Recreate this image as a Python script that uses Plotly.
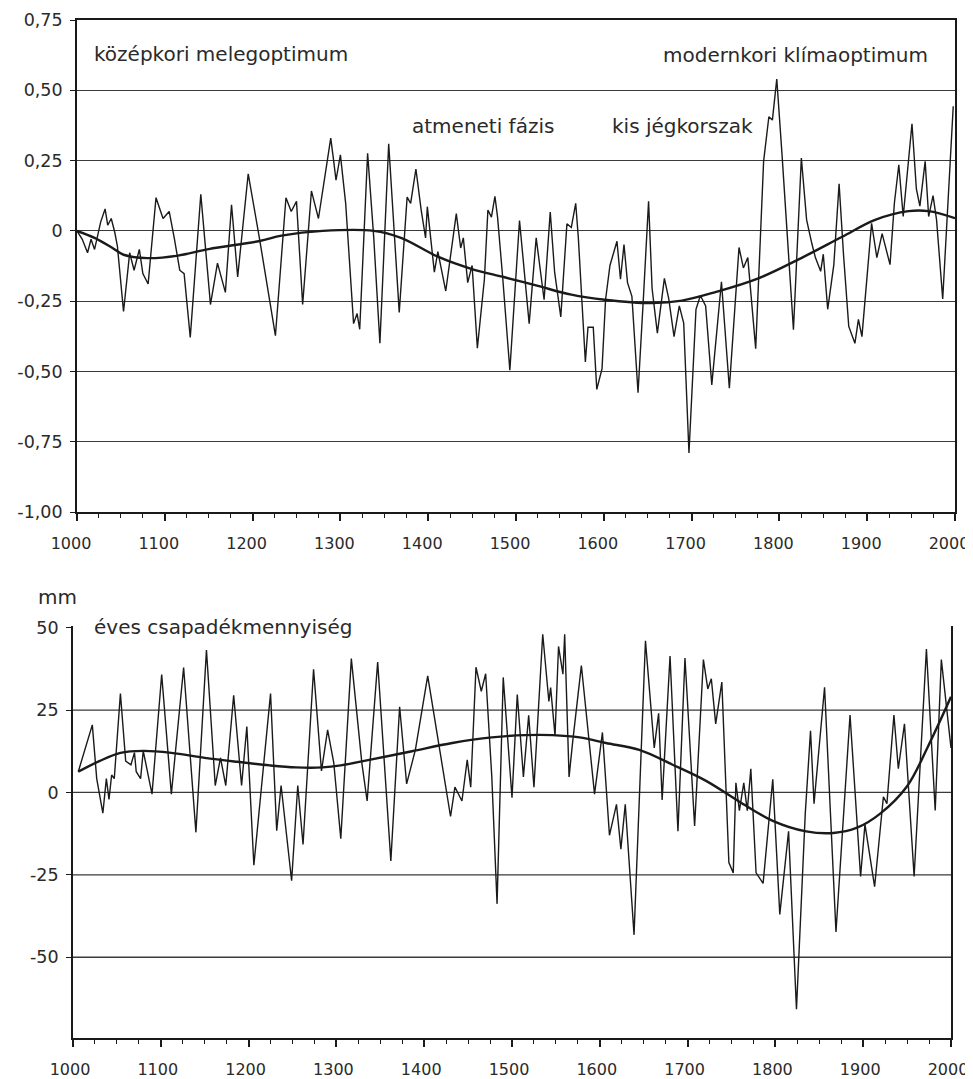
import plotly.graph_objects as go

# ---------------- data: temperature anomaly (top) ----------------
temp_years = [1000, 1006, 1012, 1016, 1020, 1027, 1032, 1035, 1039, 1043, 1046, 1053, 1060, 1065, 1071, 1075,
              1081, 1090, 1098, 1105, 1111, 1117, 1122, 1129, 1141, 1152, 1160, 1169, 1176, 1183, 1195, 1208,
              1226, 1238, 1244, 1250, 1257, 1267, 1275, 1285, 1289, 1292, 1295, 1300, 1306, 1315, 1319, 1322,
              1331, 1338, 1345, 1355, 1367, 1376, 1380, 1386, 1392, 1397, 1399, 1407, 1411, 1420, 1432, 1437,
              1440, 1445, 1450, 1456, 1464, 1468, 1472, 1476, 1479, 1485, 1493, 1504, 1515, 1523, 1532, 1539,
              1544, 1551, 1558, 1563, 1568, 1571, 1579, 1582, 1588, 1592, 1598, 1602, 1607, 1615, 1619, 1623,
              1627, 1632, 1639, 1645, 1651, 1655, 1661, 1669, 1674, 1680, 1686, 1691, 1697, 1705, 1710, 1716,
              1723, 1734, 1743, 1754, 1759, 1764, 1773, 1782, 1788, 1792, 1797, 1803, 1816, 1825, 1831, 1837,
              1841, 1847, 1850, 1855, 1862, 1868, 1873, 1879, 1886, 1890, 1894, 1905, 1911, 1917, 1922, 1926,
              1931, 1936, 1941, 1951, 1956, 1960, 1966, 1970, 1975, 1979, 1986, 1991, 1998]
temp_values = [0.0, -0.03, -0.078, -0.03, -0.066, 0.032, 0.078, 0.02, 0.044, -0.005, -0.054, -0.287, -0.078,
               -0.14, -0.066, -0.152, -0.189, 0.118, 0.044, 0.069, -0.029, -0.14, -0.152, -0.379, 0.13, -0.262,
               -0.115, -0.219, 0.093, -0.164, 0.203, -0.03, -0.373, 0.118, 0.069, 0.105, -0.262, 0.142, 0.044,
               0.25, 0.33, 0.257, 0.18, 0.27, 0.098, -0.33, -0.294, -0.35, 0.276, -0.025, -0.40, 0.31, -0.29,
               0.12, 0.098, 0.22, 0.074, -0.025, 0.086, -0.147, -0.074, -0.214, 0.061, -0.061, -0.025, -0.184,
               -0.123, -0.417, -0.172, 0.074, 0.049, 0.123, 0.049, -0.172, -0.496, 0.037, -0.33, -0.025, -0.245,
               0.067, -0.147, -0.306, 0.025, 0.012, 0.098, -0.025, -0.466, -0.343, -0.343, -0.564, -0.49, -0.245,
               -0.123, -0.037, -0.172, -0.049, -0.184, -0.233, -0.576, -0.245, 0.105, -0.205, -0.364, -0.169,
               -0.242, -0.376, -0.267, -0.328, -0.79, -0.279, -0.23, -0.267, -0.548, -0.181, -0.56, -0.059,
               -0.132, -0.095, -0.419, 0.247, 0.406, 0.394, 0.54, 0.271, -0.352, 0.259, 0.039, -0.046, -0.095,
               -0.144, -0.083, -0.279, -0.12, 0.167, -0.083, -0.34, -0.40, -0.315, -0.376, 0.027, -0.095, -0.01,
               -0.071, -0.12, 0.1, 0.235, 0.051, 0.381, 0.149, 0.088, 0.247, 0.051, 0.125, 0.039, -0.242, 0.039,
               0.443]
temp_trend_years = [1000, 1020, 1040, 1053, 1080, 1115, 1150, 1208, 1233, 1280, 1338, 1369, 1411, 1449, 1487,
                    1525, 1563, 1601, 1655, 1689, 1727, 1776, 1826, 1871, 1909, 1947, 1970, 2000]
temp_trend_values = [0.0, -0.025, -0.06, -0.085, -0.097, -0.088, -0.065, -0.036, -0.017, 0.0, 0.0, -0.025,
                     -0.092, -0.135, -0.165, -0.196, -0.227, -0.245, -0.257, -0.248, -0.218, -0.169, -0.095,
                     -0.022, 0.039, 0.07, 0.07, 0.045]

# ---------------- data: annual precipitation (bottom) ----------------
prec_years = [1006, 1022, 1027, 1034, 1038, 1041, 1044, 1047, 1054, 1060, 1066, 1070, 1072, 1077, 1080, 1090,
              1101, 1112, 1126, 1140, 1152, 1162, 1168, 1174, 1183, 1192, 1198, 1206, 1225, 1232, 1237, 1249,
              1256, 1262, 1274, 1283, 1290, 1297, 1305, 1317, 1329, 1335, 1347, 1362, 1372, 1380, 1390, 1404,
              1430, 1435, 1443, 1449, 1453, 1459, 1465, 1470, 1477, 1483, 1490, 1500, 1506, 1513, 1519, 1525,
              1535, 1542, 1544, 1549, 1553, 1558, 1560, 1565, 1569, 1579, 1594, 1603, 1611, 1619, 1624, 1629,
              1639, 1652, 1662, 1667, 1671, 1680, 1689, 1697, 1708, 1718, 1723, 1727, 1732, 1739, 1747, 1752,
              1755, 1759, 1764, 1768, 1772, 1778, 1786, 1797, 1805, 1815, 1824, 1834, 1840, 1844, 1856, 1869,
              1885, 1897, 1902, 1913, 1923, 1927, 1935, 1940, 1947, 1958, 1972, 1982, 1989, 2000]
prec_values = [6.3, 20.5, 4.2, -6.3, 4.2, -2.1, 5.3, 4.2, 30.0, 9.5, 8.4, 12.1, 6.3, 4.2, 12.6, -0.5, 35.8,
               -0.5, 37.9, -12.1, 43.2, 2.1, 10.5, 2.1, 29.5, 2.1, 20.0, -22.1, 30.0, -11.6, 2.1, -26.8, 2.1,
               -15.8, 37.4, 6.5, 19.0, 9.0, -14.0, 40.6, 8.9, -2.6, 39.6, -20.8, 26.0, 2.6, 13.0, 35.4, -7.3, 1.6,
               -2.6, 9.9, 1.6, 38.0, 30.7, 36.0, 4.7, -33.8, 34.9, -1.6, 29.7, 4.7, 23.4, 1.6, 48.0, 27.6, 31.8,
               17.2, 44.3, 35.9, 48.0, 4.7, 15.1, 38.5, -0.5, 18.2, -13.0, -3.6, -17.2, -3.6, -43.2, 46.0, 13.5,
               24.0, -2.3, 41.4, -11.8, 40.8, -10.2, 40.3, 31.4, 34.5, 20.8, 33.5, -21.3, -24.4, 2.9, -5.5, 2.9,
               -5.5, 7.2, -24.4, -27.6, 4.0, -37.0, -11.8, -65.8, -6.5, 18.7, -3.4, 31.9, -42.3, 23.5, -25.5,
               -9.7, -28.6, -1.3, -3.4, 23.5, 7.2, 20.8, -25.5, 43.5, -5.5, 40.3, 13.5]
prec_trend_years = [1006, 1030, 1054, 1080, 1112, 1150, 1187, 1224, 1254, 1284, 1305, 1336, 1386, 1432, 1477,
                    1515, 1546, 1577, 1607, 1645, 1683, 1721, 1759, 1797, 1835, 1866, 1893, 1919, 1950, 1973, 2000]
prec_trend_values = [6.3, 9.5, 12.0, 12.6, 12.0, 10.5, 9.3, 8.2, 7.6, 7.6, 8.2, 9.8, 12.5, 15.0, 16.7, 17.4,
                     17.4, 16.7, 15.0, 12.9, 8.4, 3.5, -2.8, -8.6, -11.8, -12.3, -10.7, -6.5, 1.9, 13.5, 29.0]

# ---------------- tick labels ----------------
year_ticks = [1000, 1100, 1200, 1300, 1400, 1500, 1600, 1700, 1800, 1900, 2000]
temp_ticks = [0.75, 0.5, 0.25, 0, -0.25, -0.5, -0.75, -1.0]
temp_tick_text = ["0,75", "0,50", "0,25", "0", "-0,25", "-0,50", "-0,75", "-1,00"]
prec_ticks = [50, 25, 0, -25, -50]
prec_tick_text = ["50", "25", "0", "-25", "-50"]
prec_grid = [25, 0, -25, -50]

# the page body has an 8px margin, so the figure is drawn at (8, 8)
OFF = 8
W, H = 973 - OFF, 1079 - OFF


def px_x(px):
    return (px - OFF) / W


def px_y(py):
    return 1 - (py - OFF) / H


INK = "#1a1a1a"
GRID = "#3a3a3a"
FONT = "DejaVu Sans"

fig = go.Figure()
fig.add_trace(go.Scatter(x=temp_years, y=temp_values, mode="lines",
                         line=dict(color=INK, width=1.4), xaxis="x", yaxis="y", showlegend=False))
fig.add_trace(go.Scatter(x=temp_trend_years, y=temp_trend_values, mode="lines",
                         line=dict(color=INK, width=2.4, shape="spline"), xaxis="x", yaxis="y", showlegend=False))
fig.add_trace(go.Scatter(x=prec_years, y=prec_values, mode="lines",
                         line=dict(color=INK, width=1.4), xaxis="x2", yaxis="y2", showlegend=False))
fig.add_trace(go.Scatter(x=prec_trend_years, y=prec_trend_values, mode="lines",
                         line=dict(color=INK, width=2.4, shape="spline"), xaxis="x2", yaxis="y2", showlegend=False))

xtickfont = dict(family=FONT, size=16, color="#2a2a2a")
ytickfont = dict(family=FONT, size=17.5, color="#2a2a2a")

xcommon = dict(range=[1000, 2000], tickvals=year_ticks, ticktext=[str(v) for v in year_ticks],
               ticks="outside", ticklen=7, tickwidth=1.5, tickcolor=INK,
               showline=True, linecolor=INK, linewidth=1.8, showgrid=False, zeroline=False,
               tickfont=xtickfont, ticklabelstandoff=9, ticklabeloverflow="allow",
               minor=dict(dtick=25, tick0=1000, ticks="outside", ticklen=4, tickwidth=1.3, tickcolor=INK,
                          showgrid=False))

fig.update_layout(
    width=W, height=H, template="none",
    paper_bgcolor="white", plot_bgcolor="white",
    margin=dict(l=0, r=0, t=0, b=0),
    showlegend=False,
    xaxis=dict(domain=[px_x(77), px_x(955)], anchor="y", mirror=True, ticklabelshift=-6, **xcommon),
    yaxis=dict(domain=[px_y(512), px_y(20)], anchor="x", range=[-1.0, 0.75],
               tickvals=temp_ticks, ticktext=temp_tick_text, ticks="outside", ticklen=5, tickwidth=1.3,
               tickcolor=INK, showline=True, linecolor=INK, linewidth=1.8, mirror=True,
               showgrid=True, gridcolor=GRID, gridwidth=1.3, zeroline=False, tickfont=ytickfont,
               ticklabelstandoff=4),
    xaxis2=dict(domain=[px_x(73), px_x(951)], anchor="y2", mirror=False, ticklabelshift=-3, **xcommon),
    yaxis2=dict(domain=[px_y(1038), px_y(626)], anchor="x2", range=[-74.5, 50.5],
                tickvals=prec_ticks, ticktext=prec_tick_text, ticks="outside", ticklen=5, tickwidth=1.3,
                tickcolor=INK, showline=True, linecolor=INK, linewidth=1.8, mirror=True,
                showgrid=False, zeroline=False, tickfont=ytickfont, ticklabelstandoff=4),
)

for g in prec_grid:
    fig.add_shape(type="line", xref="x2 domain", yref="y2", x0=0, x1=1, y0=g, y1=g,
                  line=dict(color=GRID, width=1.3), layer="below")

afont = dict(family=FONT, size=20, color="#2a2a2a")
labels = [
    ("középkori melegoptimum", 92, 54),
    ("modernkori klímaoptimum", 661, 55),
    ("atmeneti fázis", 410, 126),
    ("kis jégkorszak", 610, 126),
    ("mm", 36, 597),
    ("éves csapadékmennyiség", 92, 627),
]
for text, px, py in labels:
    fig.add_annotation(text=text, xref="paper", yref="paper", x=px_x(px), y=px_y(py),
                       xanchor="left", yanchor="middle", showarrow=False, font=afont)

fig.write_html("out.html")
